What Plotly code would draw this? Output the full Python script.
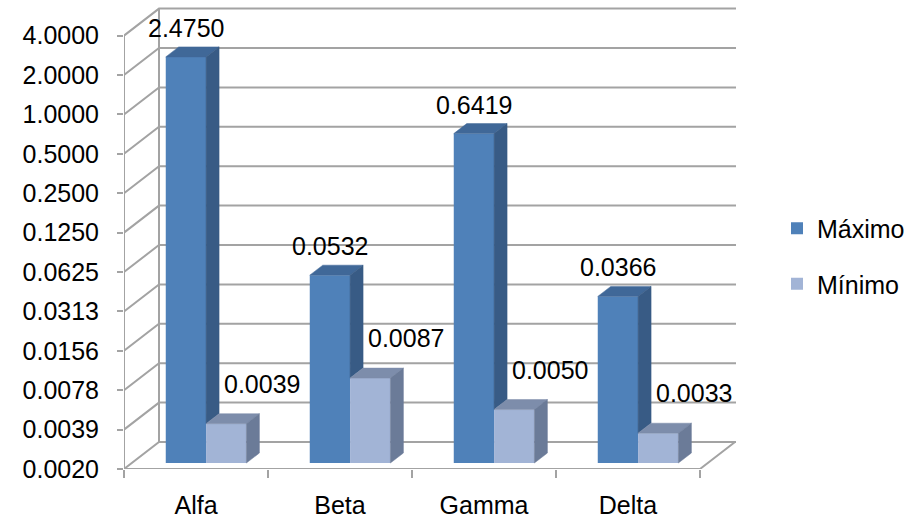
import math
import plotly.graph_objects as go

# ---------------- data ----------------
categories = ["Alfa", "Beta", "Gamma", "Delta"]
maximo = [2.4750, 0.0532, 0.6419, 0.0366]
minimo = [0.0039, 0.0087, 0.0050, 0.0033]
tick_exponents = list(range(-9, 3))  # 2^-9 ... 2^2
tick_labels = ["0.0020", "0.0039", "0.0078", "0.0156", "0.0313", "0.0625",
               "0.1250", "0.2500", "0.5000", "1.0000", "2.0000", "4.0000"]
series_names = ["Máximo", "Mínimo"]

# ---------------- styling / geometry ----------------
W, H = 916, 520
L, R, T, B = 124, 180, 5, 51
PX_X = 144.0          # pixels per category
PX_DBL = 39.4         # pixels per doubling on the log2 value axis
WALL_DX, WALL_DY = 35, 27   # depth of the 3D box (px)
BAR_D0 = 6                  # depth of bar front face (px)
BAR_DX, BAR_DY = 13, 10     # depth of the bars (px)
BAR_W = 0.28
OFF_MAX, OFF_MIN = -0.07, 0.21
FONT = "Liberation Sans, Arial, sans-serif"
FS = 25
GRID = "#a3a3a3"
COL = {"max": ("#4f81b9", "#385b85", "#406898"),
       "min": ("#a2b4d6", "#6b7b98", "#7d8dab")}

base_val = 2.0 ** tick_exponents[0]
top_val = 2.0 ** tick_exponents[-1]
x_range = [-0.5, -0.5 + (W - L - R) / PX_X]
y_lo = math.log10(base_val)
y_range = [y_lo, y_lo + (H - T - B) / PX_DBL * math.log10(2)]


def shift(x, y, dx_px, dy_px):
    return x + dx_px / PX_X, y * 2.0 ** (dy_px / PX_DBL)


fig = go.Figure()

# ---------------- walls / floor (main axes, drawn underneath) ----------------
wx, wy = [], []
xl = x_range[0]
xb, _ = shift(xl, 1, WALL_DX, WALL_DY)
for k in tick_exponents:
    v = 2.0 ** k
    bx, by = shift(xl, v, WALL_DX, WALL_DY)
    wx += [xl, bx, x_range[1], None]
    wy += [v, by, by, None]
_, by0 = shift(xl, base_val, WALL_DX, WALL_DY)
_, by1 = shift(xl, top_val, WALL_DX, WALL_DY)
wx += [xb, xb, None]
wy += [by0, by1, None]
wx += [xl, xl, None]
wy += [base_val, top_val, None]
xr = len(categories) - 0.5
fx, fy = shift(xr, base_val, WALL_DX, WALL_DY)
wx += [xl, xr, fx, None]
wy += [base_val, base_val, fy, None]
fig.add_trace(go.Scatter(x=wx, y=wy, mode="lines", line=dict(color=GRID, width=2),
                         hoverinfo="skip", showlegend=False, xaxis="x", yaxis="y"))

# ---------------- bars (overlay axes) ----------------
f0 = 2.0 ** (BAR_D0 / PX_DBL)      # value scale shift for the bars' depth
b0 = base_val * f0
for key, name, vals, off in [("max", series_names[0], maximo, OFF_MAX),
                              ("min", series_names[1], minimo, OFF_MIN)]:
    front, side, top = COL[key]
    xs = [i + off for i in range(len(categories))]
    fig.add_trace(go.Bar(x=xs, y=[v * f0 - b0 for v in vals], base=b0, width=BAR_W,
                         name=name, legendgroup=name,
                         marker=dict(color=front, line=dict(width=0)),
                         customdata=vals,
                         hovertemplate="%{customdata:.4f}<extra>" + name + "</extra>",
                         xaxis="x2", yaxis="y2"))

for i in range(len(categories)):
    for key, vals, off in [("max", maximo, OFF_MAX), ("min", minimo, OFF_MIN)]:
        front, side, top = COL[key]
        v = vals[i] * f0
        x0 = i + off - BAR_W / 2
        x1 = i + off + BAR_W / 2
        bottom = max(b0, minimo[i] * f0) if key == "max" else b0
        ax, ay = shift(x0, v, BAR_DX, BAR_DY)
        bx_, by_ = shift(x1, v, BAR_DX, BAR_DY)
        fig.add_trace(go.Scatter(x=[x0, x1, bx_, ax, x0], y=[v, v, by_, ay, v], fill="toself",
                                 fillcolor=top, mode="lines", line=dict(color=top, width=0.5),
                                 hoverinfo="skip", showlegend=False, xaxis="x2", yaxis="y2"))
        cx, cy = shift(x1, bottom, BAR_DX, BAR_DY)
        fig.add_trace(go.Scatter(x=[x1, x1, bx_, cx, x1], y=[bottom, v, by_, cy, bottom],
                                 fill="toself", fillcolor=side, mode="lines",
                                 line=dict(color=side, width=0.5),
                                 hoverinfo="skip", showlegend=False, xaxis="x2", yaxis="y2"))

# ---------------- data labels ----------------
ann = []
for i in range(len(categories)):
    ann.append(dict(x=i + OFF_MAX, y=math.log10(maximo[i] * f0), xref="x2", yref="y2",
                    text=f"{maximo[i]:.4f}", showarrow=False, yshift=29,
                    font=dict(size=FS, color="black", family=FONT)))
    ann.append(dict(x=i + OFF_MIN, y=math.log10(minimo[i] * f0), xref="x2", yref="y2",
                    text=f"{minimo[i]:.4f}", showarrow=False, yshift=40, xshift=36,
                    font=dict(size=FS, color="black", family=FONT)))

fig.update_layout(
    width=W, height=H, margin=dict(l=L, r=R, t=T, b=B, autoexpand=False),
    paper_bgcolor="white", plot_bgcolor="white",
    font=dict(family=FONT, size=FS, color="black"),
    barmode="overlay", annotations=ann,
    xaxis=dict(range=x_range, showgrid=False, zeroline=False, showline=False,
               automargin=False,
               tickmode="array", tickvals=list(range(len(categories))), ticktext=categories,
               ticks="", ticklen=0, ticklabelstandoff=19,
               minor=dict(tickmode="array",
                          tickvals=[i - 0.5 for i in range(len(categories) + 1)],
                          ticks="outside", ticklen=8, tickwidth=2, tickcolor=GRID)),
    yaxis=dict(type="log", range=y_range, showgrid=False, zeroline=False, showline=False,
               automargin=False,
               tickmode="array", tickvals=[2.0 ** k for k in tick_exponents],
               ticktext=tick_labels, ticks="outside", ticklen=6, tickwidth=2,
               tickcolor=GRID, ticklabelstandoff=13),
    xaxis2=dict(range=x_range, overlaying="x", visible=False),
    yaxis2=dict(type="log", range=y_range, overlaying="y", visible=False),
    legend=dict(x=(777 - L) / (W - L - R), xanchor="left", y=(H - B - 256) / (H - T - B),
                yanchor="middle", tracegroupgap=20, font=dict(size=FS),
                bgcolor="rgba(0,0,0,0)"),
    showlegend=True,
)

fig.write_html("out.html")
